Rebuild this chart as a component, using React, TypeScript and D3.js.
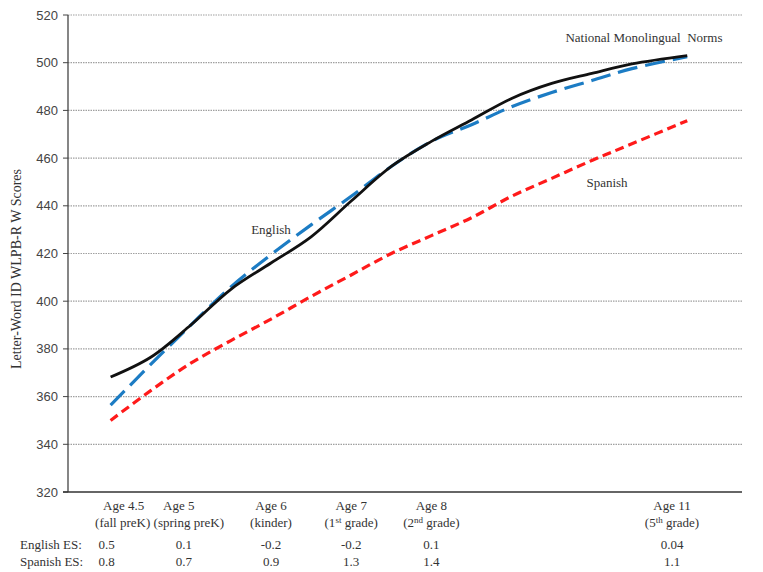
import React from "react";
import * as d3 from "d3";

const ages = [4.0, 4.5, 5.0, 5.5, 6.0, 6.5, 7.0, 7.5, 8.0, 8.5, 9.0, 9.5, 10.0, 10.5, 11.19];
const nationalNorms = [368.2, 376.5, 390, 405, 416, 427, 442, 456.5, 467, 476, 485, 491.3, 495.5, 499.5, 503];
const englishScores = [356.4, 373.5, 390, 406, 419.5, 432, 444, 456.5, 467, 474, 481.5, 487.5, 492.5, 497.5, 502.5];
const spanishScores = [350, 362.5, 374, 383.5, 392.5, 402, 411, 420, 427.5, 435, 444, 451.5, 459, 466, 475.7];

const categoryAges = [4.5, 5, 6, 7, 8, 11];
const categoryLine1 = ["Age 4.5", "Age 5", "Age 6", "Age 7", "Age 8", "Age 11"];
const categoryLine2: [string, string, string][] = [
  ["(fall preK)", "", ""],
  ["(spring preK)", "", ""],
  ["(kinder)", "", ""],
  ["(1", "st", " grade)"],
  ["(2", "nd", " grade)"],
  ["(5", "th", " grade)"],
];
const englishES = ["0.5", "0.1", "-0.2", "-0.2", "0.1", "0.04"];
const spanishES = ["0.8", "0.7", "0.9", "1.3", "1.4", "1.1"];
const yTicks = [320, 340, 360, 380, 400, 420, 440, 460, 480, 500, 520];

// layout
const W = 763, H = 572;
const left = 68, right = 742, top = 15, bottom = 492;
const line1Shift = [-27, -12, 0, 0, 0, 0];
const line2Shift = [-28, -2, 0, 0, 0, 0];
const esShift = [-44, -7, 0, 0, 0, 0];

export default function App() {
  const x = d3.scaleLinear().domain([6, 11]).range([271, 672]);
  const y = d3.scaleLinear().domain([320, 520]).range([bottom, top]);
  const line = d3
    .line<number>()
    .x((_, i) => x(ages[i]))
    .y((d) => y(d))
    .curve(d3.curveCatmullRom.alpha(0.5));

  const serif = "'Liberation Serif', 'Times New Roman', serif";
  const sans = "'Liberation Sans', Arial, sans-serif";

  return (
    <svg width={W} height={H} style={{ position: "absolute", left: 0, top: 0, background: "#fff" }}>
      {/* gridlines */}
      {yTicks.filter((t) => t > 320).map((t) => (
        <line key={t} x1={left} x2={right} y1={y(t)} y2={y(t)} stroke="#a0a0a0" strokeWidth={1.2} strokeDasharray="1.5,1" />
      ))}
      {/* y tick marks & labels */}
      {yTicks.map((t) => (
        <g key={"t" + t}>
          <line x1={left - 5} x2={left} y1={y(t)} y2={y(t)} stroke="#444" strokeWidth={1} />
          <text x={left - 10} y={y(t)} dy="0.35em" textAnchor="end" fontFamily={sans} fontSize={13} fill="#444">
            {t}
          </text>
        </g>
      ))}
      {/* axes */}
      <line x1={left} x2={left} y1={top} y2={bottom} stroke="#444" strokeWidth={1.3} />
      <line x1={left - 5} x2={right} y1={bottom} y2={bottom} stroke="#333" strokeWidth={1.6} />

      {/* series */}
      <path d={line(spanishScores) || ""} fill="none" stroke="#ff1a1a" strokeWidth={3.2} strokeDasharray="9,5" />
      <path d={line(englishScores) || ""} fill="none" stroke="#1c7cc4" strokeWidth={3.2} strokeDasharray="20,8" />
      <path d={line(nationalNorms) || ""} fill="none" stroke="#111" strokeWidth={2.8} />

      {/* series labels */}
      <text x={271} y={234} textAnchor="middle" fontFamily={serif} fontSize={13} fill="#333">English</text>
      <text x={607} y={187} textAnchor="middle" fontFamily={serif} fontSize={13} fill="#333">Spanish</text>
      <text x={644} y={42} textAnchor="middle" fontFamily={serif} fontSize={13} fill="#333">National Monolingual&#160; Norms</text>

      {/* y axis title */}
      <text
        transform={`translate(21, 269) rotate(-90)`}
        textAnchor="middle"
        fontFamily={serif}
        fontSize={14}
        fill="#333"
      >
        Letter-Word ID WLPB-R W Scores
      </text>

      {/* category labels */}
      {categoryAges.map((a, i) => {
        const l2 = categoryLine2[i];
        return (
          <g key={"c" + i}>
            <text x={x(a) + line1Shift[i]} y={510} textAnchor="middle" fontFamily={serif} fontSize={13} fill="#333">{categoryLine1[i]}</text>
            <text x={x(a) + line2Shift[i]} y={527} textAnchor="middle" fontFamily={serif} fontSize={13} fill="#333">
              {l2[0]}
              {l2[1] && <tspan fontSize={9} dy={-4}>{l2[1]}</tspan>}
              {l2[2] && <tspan dy={l2[1] ? 4 : 0}>{l2[2]}</tspan>}
            </text>
          </g>
        );
      })}

      {/* ES rows */}
      <text x={20} y={549} fontFamily={serif} fontSize={13} fill="#333">English ES:</text>
      <text x={20} y={566} fontFamily={serif} fontSize={13} fill="#333">Spanish ES:</text>
      {categoryAges.map((a, i) => (
        <g key={"es" + i}>
          <text x={x(a) + esShift[i]} y={549} textAnchor="middle" fontFamily={serif} fontSize={13} fill="#333">{englishES[i]}</text>
          <text x={x(a) + esShift[i]} y={566} textAnchor="middle" fontFamily={serif} fontSize={13} fill="#333">{spanishES[i]}</text>
        </g>
      ))}
    </svg>
  );
}
